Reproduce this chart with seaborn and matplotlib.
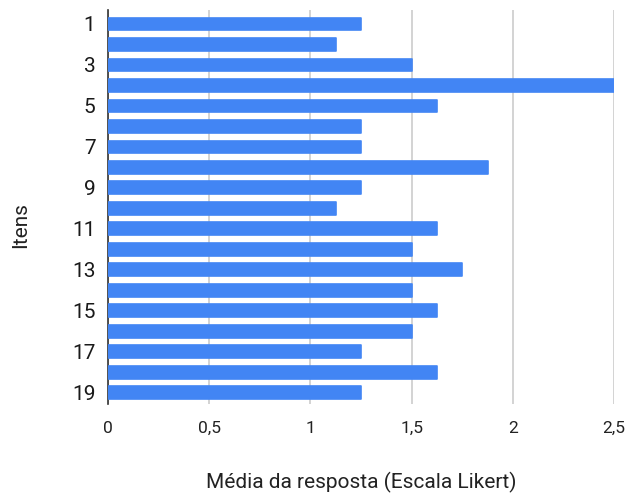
import pandas as pd
import seaborn as sns
import matplotlib.pyplot as plt
from matplotlib.ticker import FixedLocator

# Values
itens = [str(i) for i in range(1, 20)]
medias = [1.25, 1.125, 1.5, 2.5, 1.625, 1.25, 1.25, 1.875, 1.25, 1.125,
          1.625, 1.5, 1.75, 1.5, 1.625, 1.5, 1.25, 1.625, 1.25]
xticks = [0, 0.5, 1, 1.5, 2, 2.5]
xtick_labels = ["0", "0,5", "1", "1,5", "2", "2,5"]

df = pd.DataFrame({"item": itens, "media": medias})

sns.set_style("white")
plt.rcParams['font.family'] = ['Roboto', 'DejaVu Sans']

fig = plt.figure(figsize=(6.38, 4.94), dpi=100)
ax = fig.add_axes([108 / 638, 90 / 494, 506 / 638, 394 / 494])

sns.barplot(data=df, x="media", y="item", order=itens, orient="h",
            color="#4285F4", saturation=1, width=0.62, ax=ax, zorder=3,
            edgecolor="#4285F4", linewidth=1.2)
for p in ax.patches:
    p.set_joinstyle("round")

ax.set_xlim(0, 2.5)
ax.set_ylim(18.55, -0.68)
ax.set_xticks(xticks)
ax.set_xticklabels(xtick_labels, fontsize=12.5, color="#222222")
ax.grid(axis="x", color="#cccccc", linewidth=1.2, zorder=0)
ax.set_axisbelow(True)

# odd item labels only
ax.set_yticks(range(len(itens)))
ax.set_yticklabels([t if int(t) % 2 == 1 else "" for t in itens],
                   fontsize=15, color="#1a1a1a")
ax.tick_params(axis="y", length=0, pad=9)
ax.tick_params(axis="x", length=0, pad=12)
ax.yaxis.set_minor_locator(FixedLocator([i - 0.5 for i in range(1, len(itens))]))
ax.tick_params(axis="y", which="minor", length=3, width=1, color="#333333")

for s in ["top", "right", "bottom"]:
    ax.spines[s].set_visible(False)
ax.spines["left"].set_color("#333333")
ax.spines["left"].set_linewidth(1.2)

ax.set_xlabel("Média da resposta (Escala Likert)", fontsize=15,
              color="#222222", labelpad=26)
ax.set_ylabel("Itens", fontsize=15, color="#222222", labelpad=30, y=0.455)

plt.savefig("out.png", dpi=100)
